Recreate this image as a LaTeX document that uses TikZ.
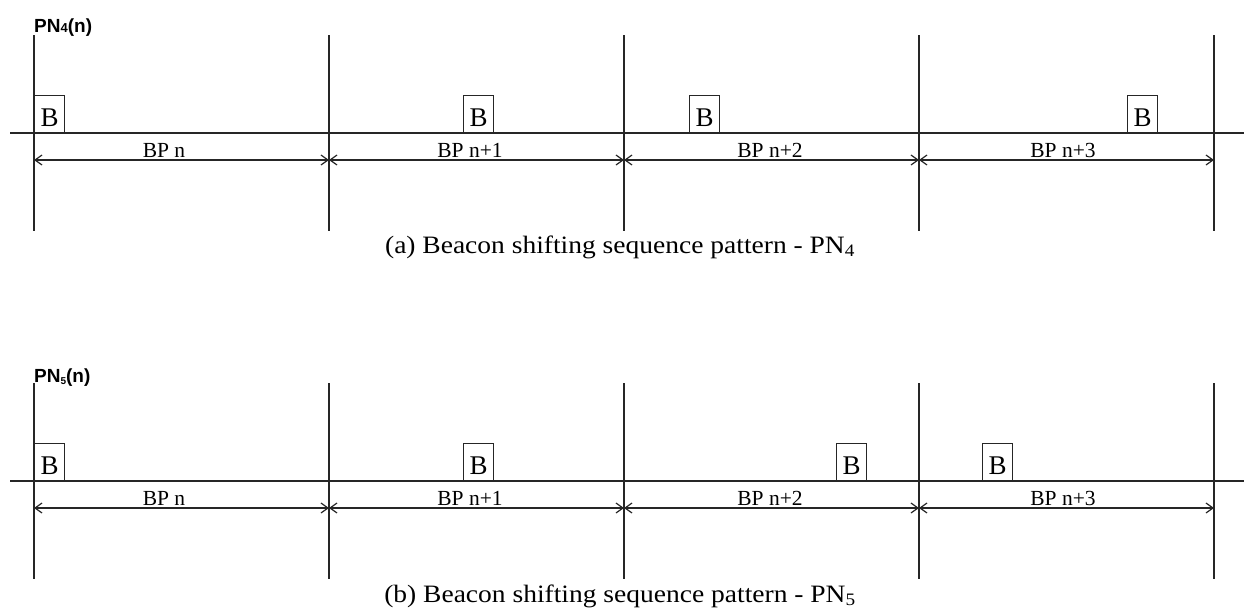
\documentclass[tikz,border=0pt]{standalone}
\usepackage{fontspec}
\setmainfont{Liberation Serif}
\newfontfamily\pnfont{Liberation Sans}
\newfontfamily\capfont[FakeStretch=1.1]{Liberation Serif}
\usetikzlibrary{arrows.meta}
\begin{document}
\begin{tikzpicture}[x=1pt,y=-1pt,
  ln/.style={line width=1.3pt, draw=black!85},
  dim/.style={line width=1.2pt, draw=black!85, {Straight Barb[length=7pt,width=10pt]}-{Straight Barb[length=7pt,width=10pt]}},
  bbox/.style={draw=black!85, line width=1.2pt, minimum width=30pt, minimum height=37pt, inner sep=0pt,
    text height=25pt, text depth=0pt, font=\fontsize{27}{27}\selectfont, anchor=south west},
  bplab/.style={anchor=base, inner sep=0pt, font=\fontsize{21.5}{21.5}\selectfont},
  pnlab/.style={anchor=base west, inner sep=0pt, font=\pnfont\bfseries\fontsize{19}{19}\selectfont},
  caption/.style={anchor=base, inner sep=0pt, font=\capfont\fontsize{25}{25}\selectfont}
]
\useasboundingbox (0,0) rectangle (1244,611);
% ---------- panel (a) ----------
\foreach \i/\x in {0/34,1/329,2/624,3/919,4/1214}{
  \coordinate (at\i) at (\x,35);
  \coordinate (ab\i) at (\x,231);
  \coordinate (ad\i) at (\x,160);
  \draw[ln] (at\i) -- (ab\i);
}
\coordinate (aL) at (10,133);
\coordinate (aR) at (1244,133);
\draw[ln] (aL) -- (aR);
\foreach \i/\j in {0/1,1/2,2/3,3/4}{ \draw[dim] (ad\i) -- (ad\j); }
\node[bbox] (aB1) at (34,133) {B};
\node[bbox] (aB2) at (463,133) {B};
\node[bbox] (aB3) at (689,133) {B};
\node[bbox] (aB4) at (1127,133) {B};
\node[bplab] (aL1) at (164,157) {BP n};
\node[bplab] (aL2) at (470,157) {BP n+1};
\node[bplab] (aL3) at (770,157) {BP n+2};
\node[bplab] (aL4) at (1063,157) {BP n+3};
\node[pnlab] (aPN) at (34,32) {PN{\fontsize{13}{13}\selectfont 4}(n)};
\node[caption] (capA) at (620,253) {(a) Beacon shifting sequence pattern - PN\textsubscript{4}};
% ---------- panel (b) ----------
\foreach \i/\x in {0/34,1/329,2/624,3/919,4/1214}{
  \coordinate (bt\i) at (\x,383);
  \coordinate (bb\i) at (\x,579);
  \coordinate (bd\i) at (\x,508);
  \draw[ln] (bt\i) -- (bb\i);
}
\coordinate (bL) at (10,481);
\coordinate (bR) at (1244,481);
\draw[ln] (bL) -- (bR);
\foreach \i/\j in {0/1,1/2,2/3,3/4}{ \draw[dim] (bd\i) -- (bd\j); }
\node[bbox] (bB1) at (34,481) {B};
\node[bbox] (bB2) at (463,481) {B};
\node[bbox] (bB3) at (836,481) {B};
\node[bbox] (bB4) at (982,481) {B};
\node[bplab] (bL1) at (164,505) {BP n};
\node[bplab] (bL2) at (470,505) {BP n+1};
\node[bplab] (bL3) at (770,505) {BP n+2};
\node[bplab] (bL4) at (1063,505) {BP n+3};
\node[pnlab] (bPN) at (34,382) {PN\raisebox{-2pt}{\fontsize{10}{10}\selectfont 5}(n)};
\node[caption] (capB) at (620,602) {(b) Beacon shifting sequence pattern - PN\textsubscript{5}};
\end{tikzpicture}
\end{document}
